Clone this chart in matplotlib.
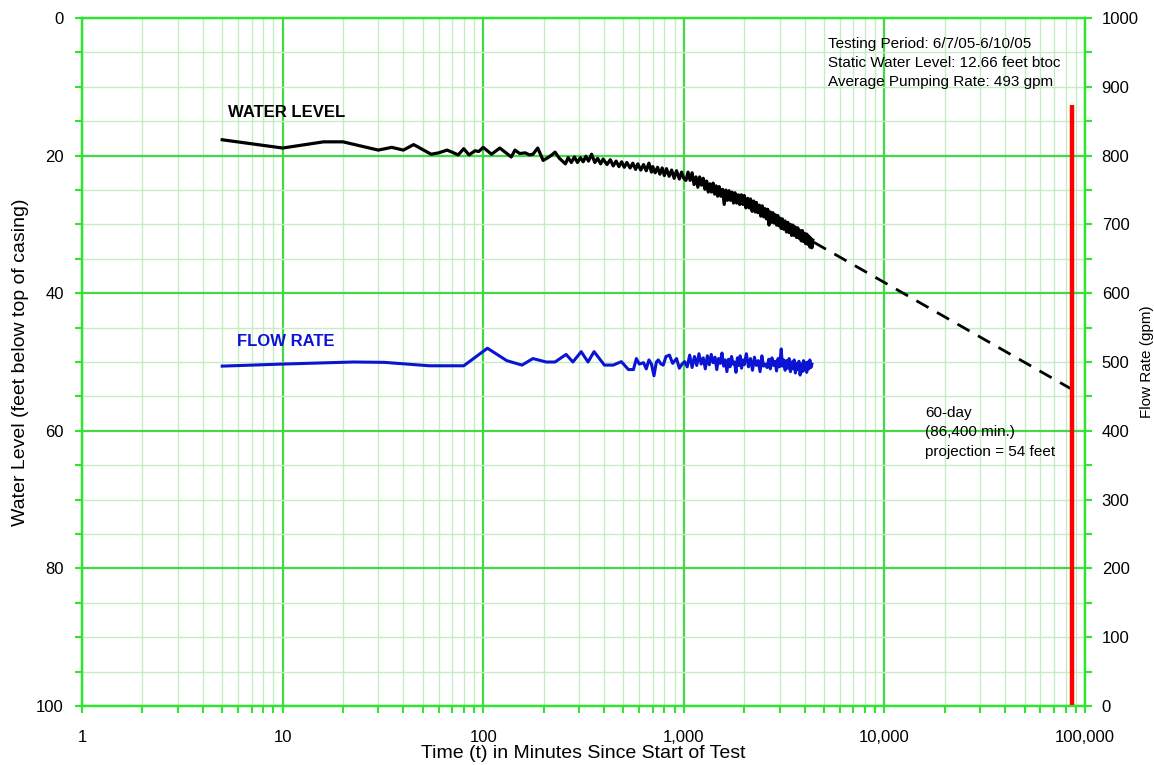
import matplotlib
matplotlib.use("Agg")
import matplotlib.pyplot as plt
from matplotlib.ticker import FixedLocator, FixedFormatter, NullFormatter

plt.rcParams['font.family'] = ['Liberation Sans', 'DejaVu Sans']

# ---------------- data ----------------
wl_time = [5, 10, 16, 20, 30, 35, 40, 45, 55, 60, 66, 70, 75, 80, 85, 91, 95, 100,
           110, 121, 138, 144, 152, 162, 170, 177, 187, 199, 210, 220, 228, 240,
           257, 265, 275, 285, 295, 305, 315, 325, 335, 347, 360, 372, 385, 396,
           414, 430, 445, 460, 475, 490, 505, 520, 540, 557, 575, 590, 610, 630,
           650, 670, 690, 700, 720, 740, 760, 780, 800, 820, 845, 870, 895, 920,
           950, 975, 1000, 1025, 1050, 1075, 1100, 1125, 1150, 1175, 1200, 1225,
           1250, 1275, 1300, 1325, 1350, 1375, 1400, 1425, 1450, 1475, 1500, 1530,
           1560, 1590, 1620, 1650, 1680, 1710, 1740, 1770, 1800, 1835, 1870, 1900,
           1935, 1970, 2000, 2040, 2080, 2115, 2150, 2190, 2230, 2270, 2300, 2340,
           2380, 2420, 2460, 2500, 2540, 2580, 2620, 2660, 2700, 2740, 2780, 2820,
           2860, 2900, 2940, 2980, 3020, 3060, 3100, 3150, 3200, 3250, 3300, 3350,
           3400, 3450, 3500, 3550, 3600, 3650, 3700, 3750, 3800, 3850, 3900, 3950,
           4000, 4050, 4100, 4150, 4200, 4250, 4300, 4350, 4400]
wl_level = [17.7, 18.9, 18.0, 18.0, 19.2, 18.8, 19.2, 18.4, 19.8, 19.6, 19.2, 19.5,
            19.9, 19.0, 19.9, 19.3, 19.4, 18.8, 19.8, 18.9, 20.2, 19.2, 19.7, 19.6,
            19.9, 19.8, 18.9, 20.7, 20.3, 19.9, 19.5, 20.4, 21.2, 20.3, 21.0, 20.2,
            21.0, 20.3, 20.9, 20.1, 20.8, 19.8, 21.0, 20.4, 21.2, 20.5, 21.3, 20.6,
            21.5, 20.8, 21.6, 20.9, 21.7, 21.0, 21.8, 21.1, 22.0, 21.2, 22.1, 21.3,
            22.2, 21.1, 22.4, 21.6, 22.5, 21.7, 22.7, 21.8, 22.9, 21.9, 23.0, 22.1,
            23.3, 22.2, 23.4, 22.4, 23.3, 23.6, 22.4, 23.6, 22.5, 24.2, 23.1, 24.6,
            23.1, 24.3, 23.3, 24.9, 23.7, 25.3, 24.1, 25.3, 24.0, 25.6, 24.4, 25.9,
            24.5, 25.9, 24.9, 27.1, 25.0, 26.5, 25.1, 26.5, 25.3, 26.9, 25.4, 26.9,
            25.7, 27.1, 25.7, 27.1, 25.8, 27.6, 26.2, 27.6, 26.3, 28.1, 26.6, 28.2,
            26.8, 28.3, 27.2, 28.8, 27.3, 28.9, 27.7, 29.2, 27.8, 30.1, 28.2, 29.7,
            28.3, 29.8, 28.6, 30.1, 28.7, 30.2, 29.1, 30.6, 29.2, 30.7, 29.5, 31.1,
            29.7, 31.2, 30.0, 31.6, 30.1, 31.6, 30.4, 31.9, 30.5, 32.0, 30.9, 32.4,
            30.9, 32.5, 31.3, 32.8, 31.4, 32.9, 31.7, 33.3, 32.0, 33.4, 32.3]

proj_time = [4450, 86400]
proj_level = [32.6, 54.0]

red_time = [86400, 86400]
red_level = [12.66, 100]

fr_time = [5, 10, 22.5, 32, 54, 80, 105, 131, 156, 177, 206, 228, 259, 280, 308,
           333, 357, 402, 445, 488, 530, 561, 580, 600, 630, 650, 670, 690, 710,
           730, 746, 770, 790, 815, 848, 880, 920, 950, 980, 1010, 1040, 1070,
           1100, 1130, 1160, 1190, 1220, 1250, 1280, 1310, 1340, 1370, 1400, 1430,
           1460, 1490, 1520, 1550, 1580, 1610, 1640, 1670, 1700, 1730, 1760, 1790,
           1820, 1850, 1880, 1910, 1940, 1970, 2000, 2050, 2100, 2150, 2200, 2250,
           2300, 2350, 2400, 2450, 2500, 2550, 2600, 2650, 2700, 2750, 2800, 2850,
           2900, 2950, 3000, 3060, 3100, 3150, 3200, 3250, 3300, 3350, 3400, 3450,
           3500, 3550, 3600, 3650, 3700, 3750, 3800, 3850, 3900, 3950, 4000, 4050,
           4100, 4150, 4200, 4250, 4300, 4350]
fr_gpm = [494, 497, 500, 499.5, 494.5, 494.5, 520, 502, 495.5, 505, 500, 500, 511,
          500, 515, 500, 515, 495.5, 495.5, 500.5, 489, 489, 505, 497, 499, 490,
          503, 497, 480, 500, 503, 497, 495.5, 508, 510, 498, 505, 491, 497, 500.5,
          493, 510, 492, 508, 495, 512, 497, 506, 490, 509, 496, 511, 499, 507,
          489, 505, 498, 513, 494, 503, 486, 504, 493, 508, 497, 500, 485, 506,
          495, 509, 491, 503, 496, 512, 493, 505, 488, 507, 495, 502, 486, 509,
          494, 497, 492, 504, 490, 506, 495, 501, 487, 505, 493, 519, 494, 503,
          488, 502, 491, 505, 486, 500, 490, 503, 484, 498, 489, 501, 481, 497,
          486, 502, 488, 499, 485, 500, 490, 503, 492, 497]

x_ticks = [1, 10, 100, 1000, 10000, 100000]
x_labels = ["1", "10", "100", "1,000", "10,000", "100,000"]
y_ticks = [0, 20, 40, 60, 80, 100]
y2_ticks = [0, 100, 200, 300, 400, 500, 600, 700, 800, 900, 1000]

info_lines = ["Testing Period: 6/7/05-6/10/05",
              "Static Water Level: 12.66 feet btoc",
              "Average Pumping Rate: 493 gpm"]
proj_lines = ["60-day", "(86,400 min.)", "projection = 54 feet"]

# ---------------- style ----------------
GREEN = "#2ee62e"
GRID_MAJ = "#45d845"
GRID_MIN = "#c6ecc6"
BLUE = "#0a14d2"

fig = plt.figure(figsize=(11.54, 7.65), dpi=100)
ax = fig.add_axes([82/1154, 1-706/765, (1085-82)/1154, (706-18)/765])
ax.set_xscale('log')
ax.set_xlim(1, 100000)
ax.set_ylim(100, 0)

minor_x = [m * 10**d for d in range(0, 5) for m in range(2, 10)]
ax.xaxis.set_major_locator(FixedLocator(x_ticks))
ax.xaxis.set_major_formatter(FixedFormatter(x_labels))
ax.xaxis.set_minor_locator(FixedLocator(minor_x))
ax.xaxis.set_minor_formatter(NullFormatter())
ax.yaxis.set_major_locator(FixedLocator(y_ticks))
ax.yaxis.set_minor_locator(FixedLocator([v for v in range(0, 101, 5) if v % 20]))

ax.grid(True, which='minor', color=GRID_MIN, lw=1.0, zorder=0)
ax.grid(True, which='major', color=GRID_MAJ, lw=1.6, zorder=0)
ax.set_axisbelow(True)

for sp in ax.spines.values():
    sp.set_color(GREEN)
    sp.set_linewidth(1.6)

ax.tick_params(which='both', direction='out', color=GREEN, width=1.5,
               labelsize=12, labelcolor='black')
ax.tick_params(which='major', length=5)
ax.tick_params(which='minor', length=5)
ax.tick_params(axis='y', which='major', pad=8)
ax.tick_params(axis='x', which='major', pad=12)

ax.set_xlabel("Time (t) in Minutes Since Start of Test", fontsize=14, labelpad=0)
ax.set_ylabel("Water Level (feet below top of casing)", fontsize=14, labelpad=5)

# water level
ax.plot(wl_time, wl_level, color='black', lw=2.3, zorder=3)
ax.plot(proj_time, proj_level, color='black', lw=2.0, ls=(0, (5, 3.5)), zorder=3)
ax.plot(red_time, red_level, color='#ff0000', lw=3.2, zorder=4, solid_capstyle='butt')

ax.text(5.35, 13.7, "WATER LEVEL", fontsize=12, fontweight='bold', va='center',
        ha='left', color='black')
ax.text(5.93, 47.0, "FLOW RATE", fontsize=12, fontweight='bold', va='center',
        ha='left', color=BLUE)

for i, line in enumerate(info_lines):
    ax.text(5240, 3.78 + i * 2.76, line, fontsize=11, va='center', ha='left')
for i, line in enumerate(proj_lines):
    ax.text(15940, 57.4 + i * 2.82, line, fontsize=11, va='center', ha='left')

# flow rate (right axis)
ax2 = ax.twinx()
ax2.set_ylim(0, 1000)
ax2.yaxis.set_major_locator(FixedLocator(y2_ticks))
ax2.yaxis.set_minor_locator(FixedLocator(list(range(50, 1000, 100))))
ax2.tick_params(which='both', direction='out', color=GREEN, width=1.5,
                labelsize=12, length=5, pad=7)
for sp in ax2.spines.values():
    sp.set_color(GREEN)
    sp.set_linewidth(1.6)
ax2.plot(fr_time, fr_gpm, color=BLUE, lw=2.2, zorder=3)
ax2.set_ylabel("Flow Rate (gpm)", fontsize=11, labelpad=1)

fig.savefig("out.png", dpi=100)
